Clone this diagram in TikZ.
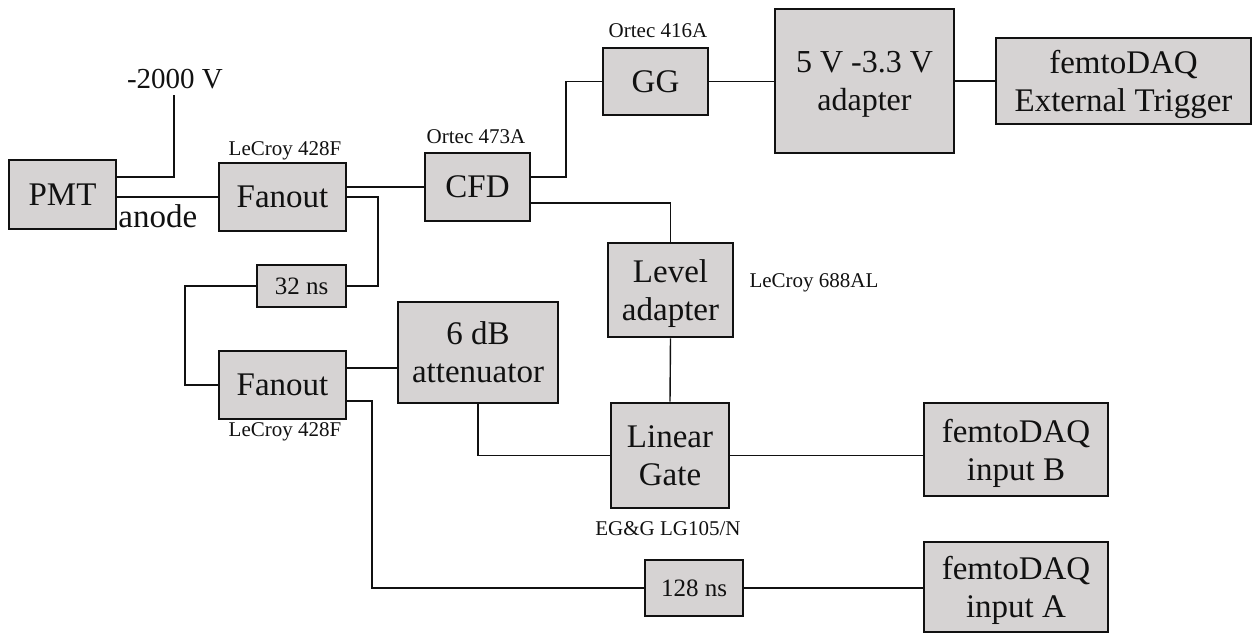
\documentclass[tikz,border=0pt]{standalone}
\usepackage{fontspec}
\setmainfont{Liberation Serif}
\newcommand\bxfont{\fontsize{16.5}{19}\selectfont}
\newcommand\smfont{\fontsize{10.5}{12}\selectfont}
\newcommand\dlfont{\fontsize{12.5}{14}\selectfont}
\newcommand\hvfont{\fontsize{14.5}{16}\selectfont}
\definecolor{boxgray}{RGB}{214,211,211}
\definecolor{ink}{RGB}{17,17,17}
\tikzset{
  bx/.style 2 args={draw=ink,fill=boxgray,line width=1.4pt,minimum width=#1*0.5pt,minimum height=#2*0.5pt,inner sep=0pt,text depth=0pt,align=center,font=\bxfont,text=ink},
  wire/.style={draw=ink,line width=0.7pt},
  lbl/.style={inner sep=0pt,font=\smfont,text=ink},
}
\begin{document}
\begin{tikzpicture}[x=0.5pt,y=-0.5pt]
\useasboundingbox (0,0) rectangle (1253,634);
% boxes
\node[bx={107}{69}] (pmt) at (62.5,194.5) {PMT};
\node[bx={127}{68}] (fan1) at (282.5,197) {Fanout};
\node[bx={105}{68}] (cfd) at (477.5,187) {CFD};
\node[bx={105}{67}] (gg) at (655.5,81.5) {GG};
\node[bx={179}{144},font=\fontsize{16}{19}\selectfont] (adapt) at (864.5,81) {5 V -3.3 V\\adapter};
\node[bx={255}{86}] (ext) at (1123.5,81) {femtoDAQ\\External Trigger};
\node[bx={89}{42},font=\dlfont] (d32) at (301.5,286) {32 ns};
\node[bx={125}{94}] (level) at (670.5,290) {Level\\adapter};
\node[bx={127}{68}] (fan2) at (282.5,385) {Fanout};
\node[bx={160}{101}] (atten) at (478,352.5) {6 dB\\attenuator};
\node[bx={118}{105}] (lin) at (670,455.5) {Linear\\Gate};
\node[bx={184}{93}] (femB) at (1016,449.5) {femtoDAQ\\input B};
\node[bx={184}{90}] (femA) at (1016,587) {femtoDAQ\\input A};
\node[bx={98}{56},font=\dlfont] (d128) at (694,588) {128 ns};
% labels
\node[inner sep=0pt,font=\hvfont,text=ink] (hv) at (175,79) {-2000 V};
\node[inner sep=0pt,font=\bxfont,text=ink,anchor=west] (anode) at (118,216) {anode};
\node[lbl] (l1) at (285,151) {LeCroy 428F};
\node[lbl] (l2) at (476,137) {Ortec 473A};
\node[lbl] (l3) at (658,31) {Ortec 416A};
\node[lbl] (l4) at (814,283) {LeCroy 688AL};
\node[lbl] (l5) at (285,432) {LeCroy 428F};
\node[lbl] (l6) at (668,529) {EG\&G LG105/N};
% bend points
\coordinate (hvb) at (174,177);
\coordinate (hvt) at (174,95);
\coordinate (k1) at (378,286);
\coordinate (k2) at (185,286);
\coordinate (k3) at (566,177);
\coordinate (k4) at (670,203);
\coordinate (k5) at (346,368);
\coordinate (k6) at (372,401);
% wires
\draw[wire] (pmt.east |- hvb) -- (hvb) -- (hvt);
\draw[wire] (pmt.east |- fan1) -- (fan1.west);
\draw[wire] (fan1.east |- cfd) -- (cfd.west);
\draw[wire] (fan1.east) -| (k1) -- (d32.east);
\draw[wire] (d32.west) -- (k2) |- (fan2.west);
\draw[wire] (cfd.east |- k3) -- (k3) |- (gg.west);
\draw[wire] (cfd.east |- k4) -| (level.north);
\draw[wire] (gg.east) -- (adapt.west |- gg.east);
\draw[wire] (adapt.east) -- (ext.west);
\draw[wire] (fan2.east |- k5) -- (atten.west |- k5);
\draw[wire] (fan2.east |- k6) -- (k6) |- (d128.west);
\draw[wire] (atten.south) |- (lin.west);
\draw[wire] (level.south) -- (lin.north);
\draw[wire] (lin.east) -- (femB.west |- lin.east);
\draw[wire] (d128.east) -- (femA.west |- d128.east);
\end{tikzpicture}
\end{document}
